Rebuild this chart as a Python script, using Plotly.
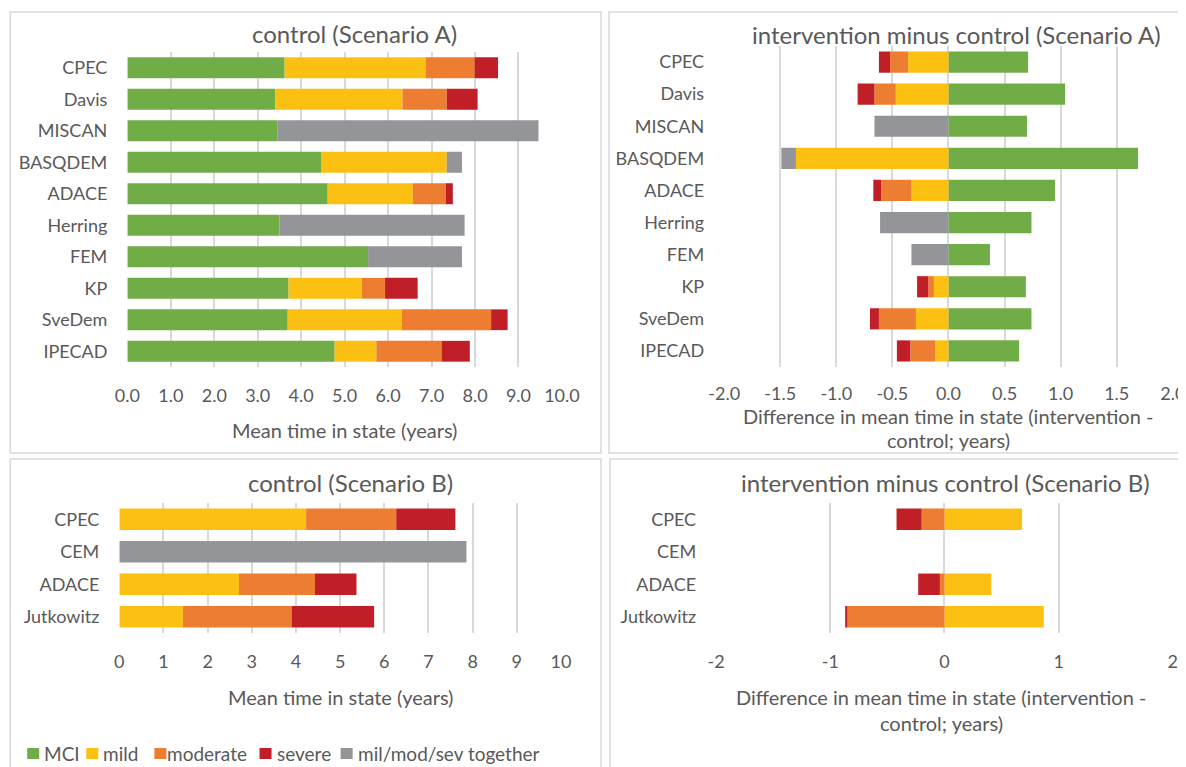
import plotly.graph_objects as go

W, H = 1186, 767

cats_A = ["CPEC", "Davis", "MISCAN", "BASQDEM", "ADACE", "Herring", "FEM", "KP", "SveDem", "IPECAD"]
ctrlA_mci = [3.62, 3.40, 3.46, 4.47, 4.61, 3.50, 5.54, 3.71, 3.69, 4.77]
ctrlA_mild = [3.24, 2.93, None, 2.88, 1.96, None, None, 1.69, 2.63, 0.96]
ctrlA_mod = [1.13, 1.02, None, None, 0.76, None, None, 0.53, 2.05, 1.50]
ctrlA_sev = [0.54, 0.71, None, None, 0.16, None, None, 0.75, 0.38, 0.65]
ctrlA_tog = [None, None, 6.00, 0.35, None, 4.26, 2.16, None, None, None]

diffA_mci = [0.71, 1.04, 0.70, 1.69, 0.95, 0.74, 0.37, 0.69, 0.74, 0.63]
diffA_mild = [-0.36, -0.47, None, -1.36, -0.33, None, None, -0.13, -0.29, -0.12]
diffA_mod = [-0.16, -0.19, None, None, -0.27, None, None, -0.05, -0.33, -0.22]
diffA_sev = [-0.10, -0.15, None, None, -0.07, None, None, -0.10, -0.08, -0.12]
diffA_tog = [None, None, -0.66, -0.13, None, -0.61, -0.33, None, None, None]

cats_B = ["CPEC", "CEM", "ADACE", "Jutkowitz"]
ctrlB_mild = [4.23, None, 2.71, 1.44]
ctrlB_mod = [2.04, None, 1.72, 2.46]
ctrlB_sev = [1.34, None, 0.94, 1.87]
ctrlB_tog = [None, 7.86, None, None]

diffB_mild = [0.68, None, 0.41, 0.87]
diffB_mod = [-0.20, None, -0.04, -0.86]
diffB_sev = [-0.22, None, -0.19, -0.01]

ticks_ctrlA = [0, 1, 2, 3, 4, 5, 6, 7, 8, 9, 10]
ticktext_ctrlA = ["0.0", "1.0", "2.0", "3.0", "4.0", "5.0", "6.0", "7.0", "8.0", "9.0", "10.0"]
ticks_diffA = [-2, -1.5, -1, -0.5, 0, 0.5, 1, 1.5, 2]
ticktext_diffA = ["-2.0", "-1.5", "-1.0", "-0.5", "0.0", "0.5", "1.0", "1.5", "2.0"]
ticks_ctrlB = [0, 1, 2, 3, 4, 5, 6, 7, 8, 9, 10]
ticktext_ctrlB = ["0", "1", "2", "3", "4", "5", "6", "7", "8", "9", "10"]
ticks_diffB = [-2, -1, 0, 1, 2]
ticktext_diffB = ["-2", "-1", "0", "1", "2"]

legend_names = ["MCI", "mild", "moderate", "severe", "mil/mod/sev together"]

C_MCI = "#70AD47"
C_MILD = "#FCC013"
C_MOD = "#ED7D31"
C_SEV = "#C01F27"
C_TOG = "#949598"
legend_colors = [C_MCI, C_MILD, C_MOD, C_SEV, C_TOG]
TXT = "#595959"
GRID = "#D9D9D9"
FONT = "Lato"

# calibration of target pixel -> paper fraction (observed rendering offset/scale)
AX, BX = 0.97, 23.8
AY, BY = 1.0, 8.0


def PX(x):
    return (x - BX) / AX / W


def PY(y):
    return 1 - (y - BY) / AY / H


fig = go.Figure()


def add(cats, vals, name, color, xa, ya):
    fig.add_trace(go.Bar(
        y=cats, x=vals, name=name, orientation="h",
        marker=dict(color=color, line=dict(width=0)),
        xaxis=xa, yaxis=ya, showlegend=False,
        hoverinfo="x+y+name",
    ))


add(cats_A, ctrlA_mci, "MCI", C_MCI, "x", "y")
add(cats_A, ctrlA_mild, "mild", C_MILD, "x", "y")
add(cats_A, ctrlA_mod, "moderate", C_MOD, "x", "y")
add(cats_A, ctrlA_sev, "severe", C_SEV, "x", "y")
add(cats_A, ctrlA_tog, "mil/mod/sev together", C_TOG, "x", "y")

add(cats_A, diffA_mci, "MCI", C_MCI, "x2", "y2")
add(cats_A, diffA_mild, "mild", C_MILD, "x2", "y2")
add(cats_A, diffA_mod, "moderate", C_MOD, "x2", "y2")
add(cats_A, diffA_sev, "severe", C_SEV, "x2", "y2")
add(cats_A, diffA_tog, "mil/mod/sev together", C_TOG, "x2", "y2")

add(cats_B, ctrlB_mild, "mild", C_MILD, "x3", "y3")
add(cats_B, ctrlB_mod, "moderate", C_MOD, "x3", "y3")
add(cats_B, ctrlB_sev, "severe", C_SEV, "x3", "y3")
add(cats_B, ctrlB_tog, "mil/mod/sev together", C_TOG, "x3", "y3")

add(cats_B, diffB_mild, "mild", C_MILD, "x4", "y4")
add(cats_B, diffB_mod, "moderate", C_MOD, "x4", "y4")
add(cats_B, diffB_sev, "severe", C_SEV, "x4", "y4")


def xd(a, b):
    return [PX(a), PX(b)]


def yd(top, bot):
    return [PY(bot), PY(top)]


def xaxis(dom, rng, tv, tt, anchor, standoff=16):
    return dict(domain=dom, range=rng, tickvals=tv, ticktext=tt, anchor=anchor,
                showgrid=True, gridcolor=GRID, gridwidth=1.5, zeroline=False,
                showline=False, ticks="", ticklabelstandoff=standoff,
                tickfont=dict(family=FONT, size=18, color=TXT), fixedrange=True)


def yaxis(dom, cats, anchor):
    return dict(domain=dom, anchor=anchor, type="category",
                categoryorder="array", categoryarray=cats[::-1],
                range=[-0.5, len(cats) - 0.5],
                showgrid=False, zeroline=False, showline=False, ticks="",
                ticklabelstandoff=19,
                tickfont=dict(family=FONT, size=18, color=TXT), fixedrange=True)


fig.update_layout(
    width=W, height=H,
    margin=dict(l=0, r=0, t=0, b=0),
    paper_bgcolor="white", plot_bgcolor="white",
    barmode="relative", bargap=0.34,
    font=dict(family=FONT, color=TXT),
    showlegend=False,
    xaxis=xaxis(xd(127, 561), [0, 10], ticks_ctrlA, ticktext_ctrlA, "y"),
    yaxis=yaxis(yd(52, 367), cats_A, "x"),
    xaxis2=xaxis(xd(723, 1171), [-2, 2], ticks_diffA, ticktext_diffA, "y2", standoff=14),
    yaxis2=yaxis(yd(46, 367), cats_A, "x2"),
    xaxis3=xaxis(xd(119, 560), [0, 10], ticks_ctrlB, ticktext_ctrlB, "y3"),
    yaxis3=yaxis(yd(503, 633), cats_B, "x3"),
    xaxis4=xaxis(xd(715, 1171), [-2, 2], ticks_diffB, ticktext_diffB, "y4"),
    yaxis4=yaxis(yd(503, 633), cats_B, "x4"),
)

# panel borders
for (x0, y0, x1, y1) in [(10, 12, 600, 453), (608, 12, 1200, 453),
                         (10, 459, 600, 780), (609, 459, 1200, 780)]:
    fig.add_shape(type="rect", xref="paper", yref="paper",
                  x0=PX(x0), x1=PX(x1), y0=PY(y0), y1=PY(y1),
                  line=dict(color=GRID, width=1.5), fillcolor="rgba(0,0,0,0)", layer="below")


def ann(text, x, y, size, anchor="center"):
    fig.add_annotation(text=text, x=PX(x), y=PY(y), xref="paper", yref="paper",
                       showarrow=False, xanchor=anchor, yanchor="middle",
                       font=dict(family=FONT, size=size, color=TXT))


ann("control (Scenario A)", 354, 33, 24)
ann("intervention minus control (Scenario A)", 955, 34, 24)
ann("control (Scenario B)", 350, 483, 24)
ann("intervention minus control (Scenario B)", 944, 483, 24)

ann("Mean time in state (years)", 344, 430, 20)
ann("Difference in mean time in state (intervention -", 947, 416, 20)
ann("control; years)", 947, 440, 20)
ann("Mean time in state (years)", 340, 697, 20)
ann("Difference in mean time in state (intervention -", 940, 697, 20)
ann("control; years)", 940, 723, 20)

# legend (manual, bottom-left)
leg_sq_x = [27, 86, 154, 259, 340]
leg_txt_x = [44, 103, 167, 276, 357]
for name, col, sx, tx in zip(legend_names, legend_colors, leg_sq_x, leg_txt_x):
    fig.add_shape(type="rect", xref="paper", yref="paper",
                  x0=PX(sx), x1=PX(sx + 12), y0=PY(748), y1=PY(759),
                  line=dict(width=0), fillcolor=col)
    ann(name, tx - 2, 753, 19, anchor="left")

fig.write_html("out.html")
